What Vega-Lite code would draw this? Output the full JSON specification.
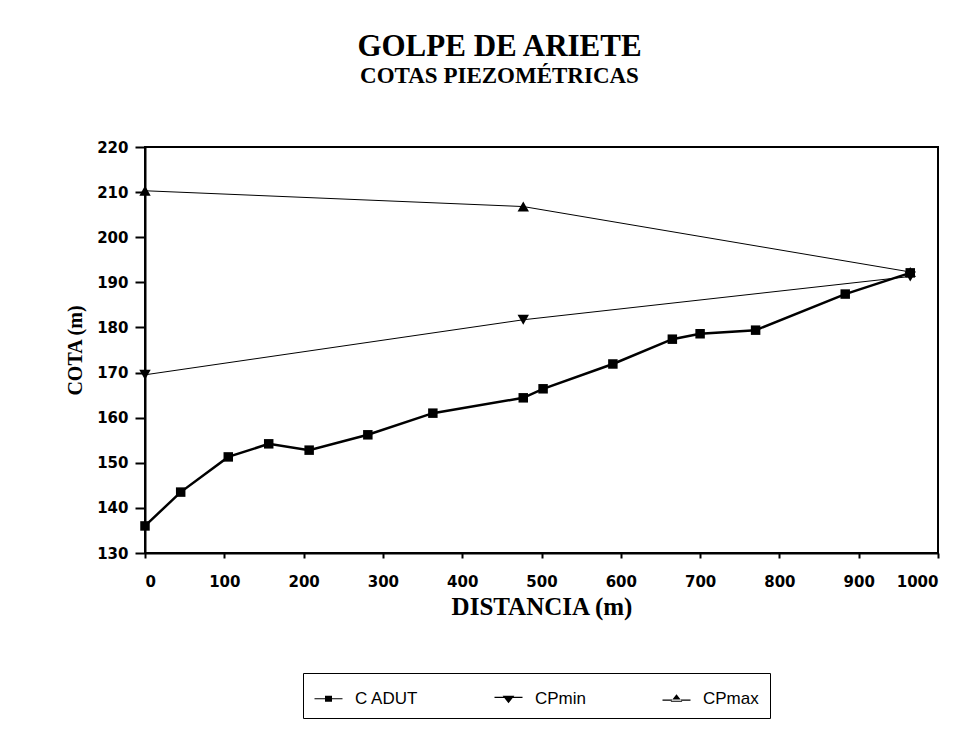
{
  "$schema": "https://vega.github.io/schema/vega-lite/v6.json",
  "width": 793,
  "height": 406,
  "autosize": "none",
  "padding": {"left": 145, "top": 147, "right": 41, "bottom": 184},
  "background": "white",
  "title": {
    "text": "GOLPE DE ARIETE",
    "subtitle": "COTAS PIEZOMÉTRICAS",
    "anchor": "middle",
    "dx": -42,
    "offset": 51,
    "font": "Liberation Serif",
    "fontSize": 31,
    "fontWeight": "bold",
    "color": "black",
    "subtitleFont": "Liberation Serif",
    "subtitleFontSize": 23,
    "subtitleFontWeight": "bold",
    "subtitleColor": "black",
    "subtitlePadding": 2
  },
  "config": {
    "view": {"stroke": "black", "strokeWidth": 2},
    "axis": {
      "domainColor": "black",
      "domainWidth": 2,
      "tickColor": "black",
      "tickWidth": 2,
      "grid": false,
      "labelFont": "DejaVu Sans",
      "labelFontSize": 15,
      "labelFontWeight": "bold",
      "labelColor": "black",
      "titleColor": "black",
      "titleFont": "Liberation Serif",
      "titleFontWeight": "bold"
    }
  },
  "data": {
    "values": [
      {"series": "C ADUT", "dist": 0, "cota": 136.0},
      {"series": "C ADUT", "dist": 45, "cota": 143.5},
      {"series": "C ADUT", "dist": 105, "cota": 151.3},
      {"series": "C ADUT", "dist": 156, "cota": 154.2},
      {"series": "C ADUT", "dist": 207, "cota": 152.8},
      {"series": "C ADUT", "dist": 281, "cota": 156.2},
      {"series": "C ADUT", "dist": 363, "cota": 161.0},
      {"series": "C ADUT", "dist": 477, "cota": 164.4},
      {"series": "C ADUT", "dist": 502, "cota": 166.4},
      {"series": "C ADUT", "dist": 590, "cota": 171.9},
      {"series": "C ADUT", "dist": 665, "cota": 177.4},
      {"series": "C ADUT", "dist": 700, "cota": 178.6},
      {"series": "C ADUT", "dist": 770, "cota": 179.4},
      {"series": "C ADUT", "dist": 883, "cota": 187.4},
      {"series": "C ADUT", "dist": 965, "cota": 192.1},
      {"series": "CPmin", "dist": 0, "cota": 169.5},
      {"series": "CPmin", "dist": 477, "cota": 181.7},
      {"series": "CPmin", "dist": 965, "cota": 191.3},
      {"series": "CPmax", "dist": 0, "cota": 210.3},
      {"series": "CPmax", "dist": 477, "cota": 206.8},
      {"series": "CPmax", "dist": 965, "cota": 192.3}
    ]
  },
  "encoding": {
    "x": {
      "field": "dist",
      "type": "quantitative",
      "scale": {"domain": [0, 1000], "nice": false, "zero": false},
      "axis": {
        "values": [0, 100, 200, 300, 400, 500, 600, 700, 800, 900, 1000],
        "format": "d",
        "title": "DISTANCIA (m)",
        "titleFontSize": 25,
        "titlePadding": 5,
        "tickSize": 5,
        "labelPadding": 16
      }
    },
    "y": {
      "field": "cota",
      "type": "quantitative",
      "scale": {"domain": [130, 220], "nice": false, "zero": false},
      "axis": {
        "values": [130, 140, 150, 160, 170, 180, 190, 200, 210, 220],
        "title": "COTA (m)",
        "titleFontSize": 20,
        "titlePadding": 11,
        "tickSize": 10,
        "labelPadding": 7
      }
    }
  },
  "layer": [
    {
      "transform": [{"filter": {"field": "series", "equal": "C ADUT"}}],
      "mark": {"type": "line", "color": "black", "strokeWidth": 2.5},
      "encoding": {}
    },
    {
      "transform": [{"filter": {"field": "series", "oneOf": ["CPmin", "CPmax"]}}],
      "mark": {"type": "line", "color": "black", "strokeWidth": 1},
      "encoding": {"detail": {"field": "series", "type": "nominal"}}
    },
    {
      "transform": [{"filter": {"field": "series", "equal": "C ADUT"}}],
      "mark": {"type": "point", "filled": true, "color": "black", "opacity": 1, "size": 90, "shape": "square"}
    },
    {
      "transform": [{"filter": {"field": "series", "equal": "CPmin"}}],
      "mark": {"type": "point", "filled": true, "color": "black", "opacity": 1, "size": 130, "shape": "triangle-down"}
    },
    {
      "transform": [{"filter": {"field": "series", "equal": "CPmax"}}],
      "mark": {"type": "point", "filled": true, "color": "black", "opacity": 1, "size": 130, "shape": "triangle-up"}
    },
    {
      "mark": {"type": "point", "filled": true, "fill": "black", "stroke": "black", "strokeWidth": 1, "opacity": 1, "size": 1},
      "encoding": {
        "shape": {
          "field": "series",
          "type": "nominal",
          "scale": {
            "domain": ["C ADUT", "CPmin", "CPmax"],
            "range": [
              "M-1,-0.04H1V0.04H-1ZM-0.25,-0.22H0.25V0.22H-0.25Z",
              "M-1,-0.14H1V-0.06H-1ZM-0.42,-0.22L0.42,-0.22L0,0.32Z",
              "M-1,0.06H1V0.14H-1ZM-0.42,0.22L0.42,0.22L0,-0.32Z"
            ]
          },
          "legend": {
            "title": null,
            "orient": "none",
            "legendX": 158,
            "legendY": 526,
            "direction": "horizontal",
            "strokeColor": "black",
            "padding": 11,
            "symbolSize": 784,
            "symbolFillColor": "black",
            "symbolStrokeColor": "black",
            "symbolStrokeWidth": 1,
            "symbolOpacity": 1,
            "labelFont": "Liberation Sans",
            "labelFontSize": 17,
            "labelColor": "black",
            "labelOffset": 12,
            "columnPadding": 73
          }
        }
      }
    }
  ]
}
